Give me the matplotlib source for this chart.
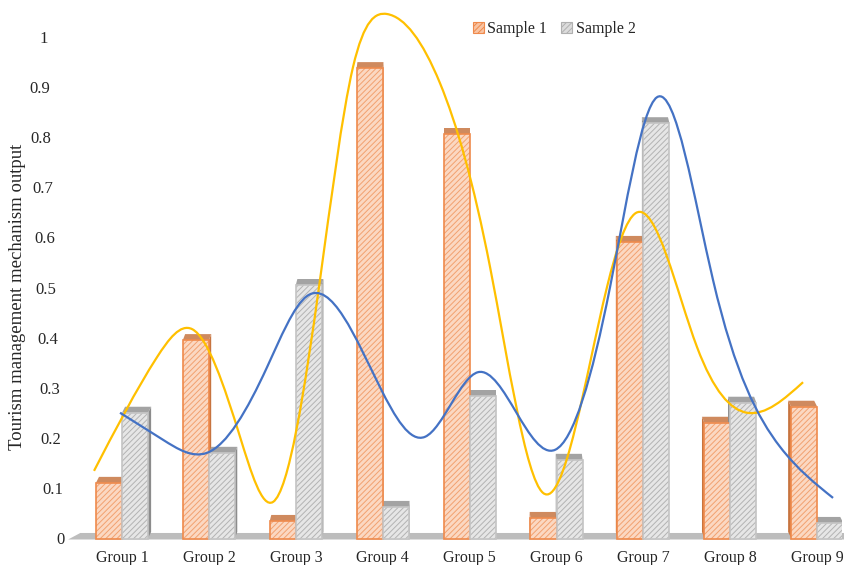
import numpy as np
import matplotlib
matplotlib.use('Agg')
from matplotlib import pyplot as plt
from matplotlib.path import Path
from matplotlib.patches import PathPatch, Polygon, Patch, Rectangle
from matplotlib.transforms import ScaledTranslation

plt.rcParams['font.family'] = ['Liberation Serif', 'DejaVu Serif']
plt.rcParams['hatch.linewidth'] = 0.7

groups = ['Group 1', 'Group 2', 'Group 3', 'Group 4', 'Group 5',
          'Group 6', 'Group 7', 'Group 8', 'Group 9']
sample1 = [0.11, 0.395, 0.034, 0.938, 0.806, 0.04, 0.591, 0.23, 0.262]
sample2 = [0.25, 0.17, 0.505, 0.062, 0.283, 0.156, 0.828, 0.27, 0.03]

# hand-drawn trend curves (knots along each curve, in category / value units)
yellow_x = [-0.322, 0.403, 0.806, 1.358, 1.738, 2.278, 2.658, 3.050, 3.659,
            4.235, 4.845, 5.581, 5.915, 6.617, 7.192, 7.837]
yellow_y = [0.134, 0.361, 0.417, 0.202, 0.072, 0.515, 0.940, 1.046, 0.908,
            0.541, 0.090, 0.501, 0.649, 0.381, 0.250, 0.311]
blue_x = [-0.023, 0.472, 0.978, 1.669, 2.129, 2.969, 3.487, 4.097, 4.983,
          5.616, 6.157, 6.801, 7.572, 8.182]
blue_y = [0.250, 0.196, 0.170, 0.341, 0.483, 0.301, 0.202, 0.331, 0.176,
          0.501, 0.880, 0.515, 0.182, 0.080]

yticks = [0, 0.1, 0.2, 0.3, 0.4, 0.5, 0.6, 0.7, 0.8, 0.9, 1]
ytick_labels = ['0', '0.1', '0.2', '0.3', '0.4', '0.5', '0.6', '0.7', '0.8', '0.9', '1']


def smooth_path(xs, ys):
    # natural cubic spline through the knots, written as Bezier segments
    x = np.asarray(xs, float)
    y = np.asarray(ys, float)
    n = len(x)
    h = np.diff(x)
    d = np.diff(y) / h
    A = np.zeros((n, n))
    b = np.zeros(n)
    A[0, 0], A[0, 1], b[0] = 2, 1, 3 * d[0]
    A[-1, -2], A[-1, -1], b[-1] = 1, 2, 3 * d[-1]
    for i in range(1, n - 1):
        A[i, i - 1] = h[i]
        A[i, i] = 2 * (h[i - 1] + h[i])
        A[i, i + 1] = h[i - 1]
        b[i] = 3 * (h[i] * d[i - 1] + h[i - 1] * d[i])
    m = np.linalg.solve(A, b)
    verts = [(x[0], y[0])]
    codes = [Path.MOVETO]
    for i in range(n - 1):
        verts += [(x[i] + h[i] / 3, y[i] + m[i] * h[i] / 3),
                  (x[i + 1] - h[i] / 3, y[i + 1] - m[i + 1] * h[i] / 3),
                  (x[i + 1], y[i + 1])]
        codes += [Path.CURVE4] * 3
    return Path(verts, codes)


def column(ax, xc, h, w, dx, face, hatch_col, edge, top_col, side_col):
    dy = 0.012
    x0, x1 = xc - w / 2, xc + w / 2
    # side face (towards the middle of the chart)
    if dx > 0:
        side = [(x1, 0), (x1, h), (x1 + dx, h + dy), (x1 + dx, dy)]
    else:
        side = [(x0, 0), (x0, h), (x0 + dx, h + dy), (x0 + dx, dy)]
    ax.add_patch(Polygon(side, closed=True, facecolor=side_col, edgecolor='none', zorder=2))
    top = [(x0, h), (x1, h), (x1 + dx, h + dy), (x0 + dx, h + dy)]
    ax.add_patch(Polygon(top, closed=True, facecolor=top_col, edgecolor='none', zorder=2))
    # front face: hatched fill, then outline
    ax.add_patch(Rectangle((x0, -0.002), w, h + 0.002, facecolor=face, edgecolor=hatch_col,
                           hatch='//////', linewidth=0, zorder=3))
    ax.add_patch(Rectangle((x0, -0.002), w, h + 0.002, facecolor='none', edgecolor=edge,
                           linewidth=1.2, zorder=3))


fig = plt.figure(figsize=(8.44, 5.65), dpi=100)
ax = fig.add_axes([65 / 844, 17 / 565, 777 / 844, 548 / 565])
ax.set_xlim(-0.656, 8.285)
ax.set_ylim(-0.02, 1.074)

# floor
ax.add_patch(Polygon([(-0.62, -0.003), (-0.48, 0.010), (8.4, 0.010), (8.4, -0.003)],
                     closed=True, facecolor='#bdbdbd', edgecolor='none', zorder=1,
                     clip_on=False))

w = 0.3
for i in range(len(groups)):
    dx = 0.035 * (4 - i) / 4
    column(ax, i - w / 2, sample1[i], w, dx, '#fbd8c2', '#f2a170', '#ef8a4c',
           '#cf8a5e', '#c7743f')
    column(ax, i + w / 2, sample2[i], w, dx, '#e6e6e6', '#b3b3b3', '#c4c4c4',
           '#a3a3a3', '#8c8c8c')

ax.add_patch(PathPatch(smooth_path(yellow_x, yellow_y), facecolor='none',
                       edgecolor='#ffc000', linewidth=1.6, zorder=5, clip_on=False))
ax.add_patch(PathPatch(smooth_path(blue_x, blue_y), facecolor='none',
                       edgecolor='#4472c4', linewidth=1.6, zorder=5, clip_on=False))

ax.set_xticks(range(len(groups)))
ax.set_xticklabels(groups, fontsize=11.5, color='#262626')
ax.set_yticks(yticks)
ax.set_yticklabels(ytick_labels, fontsize=12, color='#262626')
ax.tick_params(axis='both', length=0)
ax.tick_params(axis='x', pad=1.5)
ax.tick_params(axis='y', pad=0)
# tick labels lean with the perspective of the chart
for k, lab in enumerate(ax.get_yticklabels()):
    lab.set_transform(lab.get_transform() + ScaledTranslation(-1.7 * k / 100, 0, fig.dpi_scale_trans))

for s in ax.spines.values():
    s.set_visible(False)

fig.text(18 / 844, 1 - 297 / 565, 'Tourism management mechanism output', rotation=90,
         ha='center', va='center', fontsize=13.5, color='#262626')

handles = [Patch(facecolor='#f9c4a3', edgecolor='#ef8a4c', hatch='//////', linewidth=0.8),
           Patch(facecolor='#dcdcdc', edgecolor='#b0b0b0', hatch='//////', linewidth=0.8)]
fig.legend(handles, ['Sample 1', 'Sample 2'], loc='center', bbox_to_anchor=(554 / 844, 1 - 29 / 565),
           ncol=2, frameon=False, fontsize=11.5, handlelength=0.7, handleheight=0.7,
           handletextpad=0.2, columnspacing=0.9, labelcolor='#262626')

fig.savefig('out.png', dpi=100)
